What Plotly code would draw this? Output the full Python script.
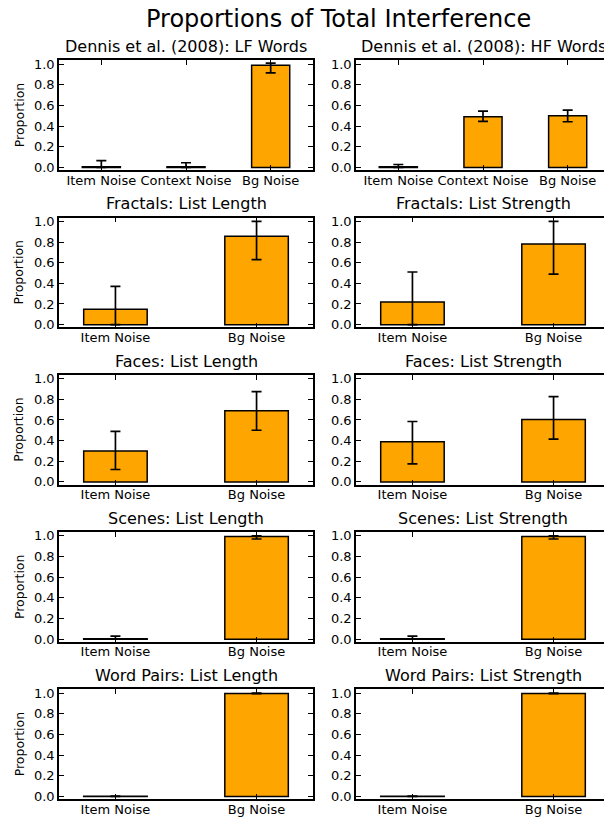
import plotly.graph_objects as go

FONT = "DejaVu Sans"

suptitle = "Proportions of Total Interference"
ylabel = "Proportion"

titles = [
    "Dennis et al. (2008): LF Words", "Dennis et al. (2008): HF Words",
    "Fractals: List Length", "Fractals: List Strength",
    "Faces: List Length", "Faces: List Strength",
    "Scenes: List Length", "Scenes: List Strength",
    "Word Pairs: List Length", "Word Pairs: List Strength",
]

cats3 = ["Item Noise", "Context Noise", "Bg Noise"]
cats2 = ["Item Noise", "Bg Noise"]

lf_vals = [0.005, 0.005, 0.99]
lf_hi = [0.065, 0.045, 1.01]
lf_lo = [0.0, 0.0, 0.915]

hf_vals = [0.005, 0.49, 0.50]
hf_hi = [0.028, 0.545, 0.555]
hf_lo = [0.0, 0.445, 0.442]

fr_ll_vals = [0.15, 0.855]
fr_ll_hi = [0.37, 1.0]
fr_ll_lo = [0.0, 0.63]

fr_ls_vals = [0.22, 0.78]
fr_ls_hi = [0.51, 1.0]
fr_ls_lo = [0.0, 0.49]

fa_ll_vals = [0.30, 0.69]
fa_ll_hi = [0.49, 0.875]
fa_ll_lo = [0.12, 0.50]

fa_ls_vals = [0.39, 0.605]
fa_ls_hi = [0.585, 0.825]
fa_ls_lo = [0.175, 0.415]

sc_ll_vals = [0.004, 0.995]
sc_ll_hi = [0.03, 1.0]
sc_ll_lo = [0.0, 0.97]

sc_ls_vals = [0.004, 0.995]
sc_ls_hi = [0.03, 1.0]
sc_ls_lo = [0.0, 0.97]

wp_ll_vals = [0.003, 0.997]
wp_ll_hi = [0.003, 1.0]
wp_ll_lo = [0.0, 0.995]

wp_ls_vals = [0.003, 0.997]
wp_ls_hi = [0.003, 1.0]
wp_ls_lo = [0.0, 0.995]

panels = [
    (cats3, lf_vals, lf_hi, lf_lo), (cats3, hf_vals, hf_hi, hf_lo),
    (cats2, fr_ll_vals, fr_ll_hi, fr_ll_lo), (cats2, fr_ls_vals, fr_ls_hi, fr_ls_lo),
    (cats2, fa_ll_vals, fa_ll_hi, fa_ll_lo), (cats2, fa_ls_vals, fa_ls_hi, fa_ls_lo),
    (cats2, sc_ll_vals, sc_ll_hi, sc_ll_lo), (cats2, sc_ls_vals, sc_ls_hi, sc_ls_lo),
    (cats2, wp_ll_vals, wp_ll_hi, wp_ll_lo), (cats2, wp_ls_vals, wp_ls_hi, wp_ls_lo),
]

W, H = 604, 826
col_left = [59, 356]
ax_w = 254
row_top = [57, 216, 375, 534, 693]
ax_h = 111

fig = go.Figure()
layout = dict(
    width=W, height=H, margin=dict(l=0, r=0, t=0, b=0),
    paper_bgcolor="white", plot_bgcolor="white", showlegend=False,
    font=dict(family=FONT, size=13, color="black"),
)
annotations = []

for i, (cats, vals, hi, lo) in enumerate(panels):
    r, c = divmod(i, 2)
    n = len(cats)
    xs = list(range(n))
    plus = [h - v for h, v in zip(hi, vals)]
    minus = [v - l for v, l in zip(vals, lo)]
    idx = "" if i == 0 else str(i + 1)
    fig.add_trace(go.Bar(
        x=xs, y=vals, width=0.45,
        marker=dict(color="#FFA500", line=dict(color="black", width=1.5)),
        error_y=dict(type="data", symmetric=False, array=plus, arrayminus=minus,
                     color="black", thickness=1.7, width=5),
        xaxis="x" + idx, yaxis="y" + idx,
    ))
    pad = 0.5 if n == 3 else 0.4
    span = (n - 1) + 2 * pad
    x0 = col_left[c]
    x1 = min(x0 + ax_w, W)
    rng_end = -pad + span * (x1 - x0) / ax_w
    top = row_top[r]
    dom_x = [x0 / W, x1 / W]
    dom_y = [1 - (top + ax_h) / H, 1 - top / H]
    layout["xaxis" + idx] = dict(
        domain=dom_x, range=[-pad, rng_end], anchor="y" + idx,
        tickvals=xs, ticktext=cats, ticks="inside", ticklen=5, tickwidth=1,
        tickcolor="black", showline=True, linecolor="black", linewidth=1.5,
        mirror="allticks", showgrid=False, zeroline=False,
        ticklabelstandoff=-3,
        tickfont=dict(family=FONT, size=13, color="black"),
    )
    layout["yaxis" + idx] = dict(
        domain=dom_y, range=[-0.027, 1.036], anchor="x" + idx,
        tickvals=[0, 0.2, 0.4, 0.6, 0.8, 1.0], tickformat=".1f",
        ticks="inside", ticklen=5, tickwidth=1, tickcolor="black",
        showline=True, linecolor="black", linewidth=1.5,
        mirror="allticks" if c == 0 else False,
        showgrid=False, zeroline=False,
        tickfont=dict(family=FONT, size=13, color="black"),
    )
    annotations.append(dict(
        text=titles[i], xref="paper", yref="paper",
        x=(col_left[c] + ax_w / 2) / W, y=1 - (top - 14) / H,
        xanchor="center", yanchor="middle", showarrow=False,
        font=dict(family=FONT, size=16, color="black"),
    ))
    if c == 0:
        annotations.append(dict(
            text=ylabel, xref="paper", yref="paper",
            x=19 / W, y=1 - (top + ax_h / 2) / H, textangle=-90,
            xanchor="center", yanchor="middle", showarrow=False,
            font=dict(family=FONT, size=12.5, color="black"),
        ))

annotations.append(dict(
    text=suptitle, xref="paper", yref="paper",
    x=338 / W, y=1 - 15 / H, xanchor="center", yanchor="middle",
    showarrow=False, font=dict(family=FONT, size=24, color="black"),
))
layout["annotations"] = annotations
fig.update_layout(**layout)
fig.write_html("out.html")
